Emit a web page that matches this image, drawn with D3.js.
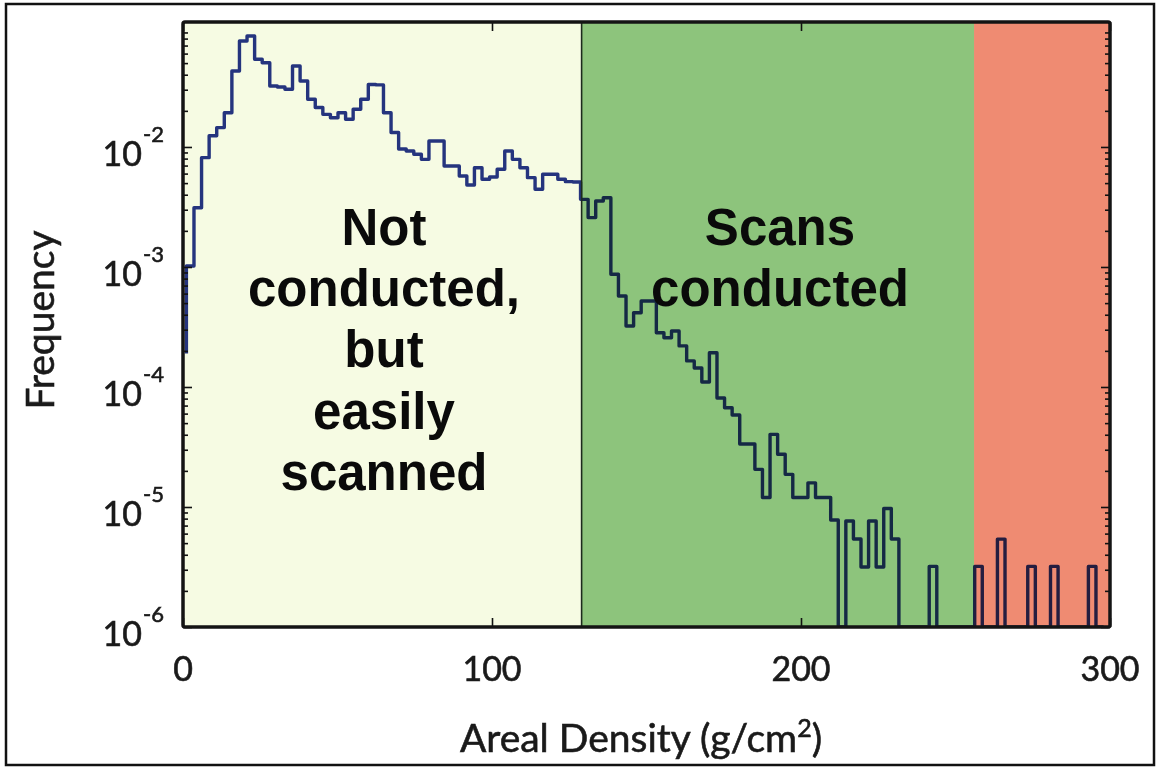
<!DOCTYPE html>
<html>
<head>
<meta charset="utf-8">
<script src="https://cdn.jsdelivr.net/npm/d3@7"></script>
<style>
  html, body { margin: 0; padding: 0; background: #fff; }
  svg { display: block; }
</style>
</head>
<body>
<svg id="chart" width="1159" height="769"></svg>
<script>
// Histogram of areal density: frequency per bin (log scale), bins 0..120
const freq = [
  1.02e-3, 3.12e-3, 8.15e-3, 1.24e-2, 1.45e-2, 1.93e-2, 4.30e-2, 7.64e-2, 8.41e-2, 5.38e-2,
  5.04e-2, 3.22e-2, 3.16e-2, 3.03e-2, 4.73e-2, 3.55e-2, 2.50e-2, 2.13e-2, 1.87e-2, 1.75e-2,
  1.93e-2, 1.70e-2, 2.06e-2, 2.50e-2, 3.32e-2, 3.29e-2, 1.93e-2, 1.32e-2, 9.62e-3, 9.27e-3,
  8.69e-3, 7.89e-3, 1.12e-2, 1.12e-2, 6.95e-3, 6.95e-3, 5.73e-3, 4.82e-3, 6.72e-3, 5.38e-3,
  5.62e-3, 6.52e-3, 9.27e-3, 7.89e-3, 6.72e-3, 5.55e-3, 4.44e-3, 5.92e-3, 5.92e-3, 5.38e-3,
  5.14e-3, 5.11e-3, 3.66e-3, 2.58e-3, 3.55e-3, 3.78e-3, 8.69e-4, 5.73e-4, 3.22e-4, 4.16e-4,
  5.21e-4, 5.21e-4, 2.83e-4, 2.57e-4, 2.93e-4, 2.20e-4, 1.65e-4, 1.44e-4, 1.10e-4, 1.93e-4,
  8.09e-5, 6.72e-5, 5.85e-5, 3.35e-5, 3.35e-5, 2.06e-5, 1.20e-5, 4.03e-5, 2.75e-5, 1.87e-5,
  1.20e-5, 1.20e-5, 1.59e-5, 1.20e-5, 1.20e-5, 7.79e-6, 0, 7.64e-6, 5.41e-6, 3.16e-6,
  7.64e-6, 3.16e-6, 9.71e-6, 5.41e-6, 0, 0, 0, 0, 3.2e-6, 0,
  0, 0, 0, 0, 3.2e-6, 0, 0, 5.4e-6, 0, 0,
  0, 3.2e-6, 0, 0, 3.2e-6, 0, 0, 0, 0, 3.2e-6,
  0
];
// value at which the stair trace opens, at the first bin centre
const startFreq = 1.9e-4;
const firstCenter = 1.1;   // g/cm^2
const binWidth = 2.453;    // g/cm^2

// shaded density ranges
const regionEdges = [0, 129, 256, 300];
const regionFills = ["#f6fbe3", "#8dc47c", "#ef8b72"];

const xTicks = [0, 100, 200, 300];
const yExponents = [-6, -5, -4, -3, -2];

const leftNote = ["Not", "conducted,", "but", "easily", "scanned"];
const rightNote = ["Scans", "conducted"];

const xTitle = "Areal Density (g/cm";
const yTitle = "Frequency";

// ---- layout ----
const plot = { left: 183, right: 1110, top: 22, bottom: 627 };

const svg = d3.select("#chart");

const x = d3.scaleLinear().domain([0, 300]).range([plot.left, plot.right]);
const y = d3.scaleLog().domain([1e-6, 0.11]).range([plot.bottom, plot.top]);

const yOf = v => (v > 0 ? y(v) : plot.bottom);

// outer border around the figure
svg.append("rect")
  .attr("x", 6).attr("y", 4).attr("width", 1148).attr("height", 761)
  .attr("fill", "none").attr("stroke", "#111").attr("stroke-width", 2.5);

svg.append("defs").append("clipPath").attr("id", "plotClip")
  .append("rect")
  .attr("x", plot.left).attr("y", plot.top)
  .attr("width", plot.right - plot.left).attr("height", plot.bottom - plot.top);

// stair trace
const pts = [{ x: firstCenter, v: startFreq }]
  .concat(freq.map((v, i) => ({ x: firstCenter + i * binWidth, v })))
  .concat([{ x: firstCenter + freq.length * binWidth, v: freq[freq.length - 1] }]);

const line = d3.line()
  .x(d => x(d.x))
  .y(d => yOf(d.v))
  .curve(d3.curveStepAfter);

svg.append("path")
  .datum(pts)
  .attr("clip-path", "url(#plotClip)")
  .attr("d", line)
  .attr("fill", "none")
  .attr("stroke", "#26358e")
  .attr("stroke-width", 3.4)
  .attr("stroke-linejoin", "round");

// tinted ranges laid over the trace (multiply keeps the trace visible, darkened)
svg.append("g")
  .selectAll("rect")
  .data(regionFills)
  .join("rect")
  .attr("x", (d, i) => x(regionEdges[i]))
  .attr("y", plot.top)
  .attr("width", (d, i) => x(regionEdges[i + 1]) - x(regionEdges[i]))
  .attr("height", plot.bottom - plot.top)
  .attr("fill", d => d)
  .style("mix-blend-mode", "multiply");

// divider at the start of the scanned range
svg.append("line")
  .attr("x1", x(regionEdges[1])).attr("x2", x(regionEdges[1]))
  .attr("y1", plot.top).attr("y2", plot.bottom)
  .attr("stroke", "#1d2a1d").attr("stroke-width", 1.6);

// ---- axes (ticks pointing inward) ----
const majors = yExponents.map(e => Math.pow(10, e));
const minors = [];
for (let e = -6; e <= -1; e++) {
  for (let m = 2; m <= 9; m++) {
    const v = m * Math.pow(10, e);
    if (v <= 0.11) minors.push(v);
  }
}

function styleAxis(g) {
  g.select(".domain").remove();
  g.selectAll("line").attr("stroke", "#111").attr("stroke-width", 1.6);
}

svg.append("g").attr("transform", `translate(${plot.left},0)`)
  .call(d3.axisRight(y).tickValues(majors).tickSize(9).tickFormat(""))
  .call(styleAxis);
svg.append("g").attr("transform", `translate(${plot.left},0)`)
  .call(d3.axisRight(y).tickValues(minors).tickSize(5).tickFormat(""))
  .call(styleAxis);
svg.append("g").attr("transform", `translate(${plot.right},0)`)
  .call(d3.axisLeft(y).tickValues(majors).tickSize(9).tickFormat(""))
  .call(styleAxis);
svg.append("g").attr("transform", `translate(${plot.right},0)`)
  .call(d3.axisLeft(y).tickValues(minors).tickSize(5).tickFormat(""))
  .call(styleAxis);
svg.append("g").attr("transform", `translate(0,${plot.bottom})`)
  .call(d3.axisTop(x).tickValues(xTicks).tickSize(9).tickFormat(""))
  .call(styleAxis);
svg.append("g").attr("transform", `translate(0,${plot.top})`)
  .call(d3.axisBottom(x).tickValues(xTicks).tickSize(9).tickFormat(""))
  .call(styleAxis);

// plot frame
svg.append("rect")
  .attr("x", plot.left).attr("y", plot.top)
  .attr("width", plot.right - plot.left).attr("height", plot.bottom - plot.top)
  .attr("fill", "none").attr("stroke", "#141414").attr("stroke-width", 3.5)
  .attr("rx", 2);

// ---- tick labels ----
const tickFont = "Lato, 'Open Sans', sans-serif";
const inkColor = "#1a1a1a";

svg.append("g")
  .selectAll("text")
  .data(xTicks)
  .join("text")
  .attr("x", d => x(d))
  .attr("y", 681)
  .attr("text-anchor", "middle")
  .attr("font-family", tickFont)
  .attr("font-size", 34)
  .attr("fill", inkColor)
  .attr("stroke", inkColor).attr("stroke-width", 0.6)
  .text(d => d);

const yl = svg.append("g")
  .selectAll("text")
  .data(yExponents)
  .join("text")
  .attr("text-anchor", "end")
  .attr("font-family", tickFont)
  .attr("fill", inkColor)
  .attr("stroke", inkColor).attr("stroke-width", 0.6);
yl.each(function (e) {
  const t = d3.select(this);
  const ty = y(Math.pow(10, e));
  t.append("tspan").attr("x", 142).attr("y", ty + 19).attr("font-size", 34).attr("text-anchor", "end").text("10");
  t.append("tspan").attr("x", 164).attr("y", ty - 5).attr("font-size", 22).attr("text-anchor", "end").text(String(e));
});

// axis titles
const xt = svg.append("text")
  .attr("x", 641).attr("y", 752)
  .attr("text-anchor", "middle")
  .attr("font-family", tickFont)
  .attr("font-size", 39)
  .attr("fill", inkColor)
  .attr("stroke", inkColor).attr("stroke-width", 0.6);
xt.append("tspan").text(xTitle);
xt.append("tspan").attr("dy", -15).attr("font-size", 25).text("2");
xt.append("tspan").attr("dy", 15).text(")");

svg.append("text")
  .attr("transform", "translate(54,320) rotate(-90)")
  .attr("text-anchor", "middle")
  .attr("font-family", tickFont)
  .attr("font-size", 39)
  .attr("fill", inkColor)
  .attr("stroke", inkColor).attr("stroke-width", 0.6)
  .text(yTitle);

// ---- range notes ----
const noteFont = "'Liberation Sans', Arial, sans-serif";
svg.append("g")
  .selectAll("text")
  .data(leftNote)
  .join("text")
  .attr("x", 384)
  .attr("y", (d, i) => 245 + i * 61.2)
  .attr("text-anchor", "middle")
  .attr("font-family", noteFont)
  .attr("font-weight", "bold")
  .attr("font-size", 51)
  .attr("fill", "#0a0a0a")
  .text(d => d);

svg.append("g")
  .selectAll("text")
  .data(rightNote)
  .join("text")
  .attr("x", 780)
  .attr("y", (d, i) => 245 + i * 61.2)
  .attr("text-anchor", "middle")
  .attr("font-family", noteFont)
  .attr("font-weight", "bold")
  .attr("font-size", 51)
  .attr("fill", "#0a0a0a")
  .text(d => d);
</script>
</body>
</html>
